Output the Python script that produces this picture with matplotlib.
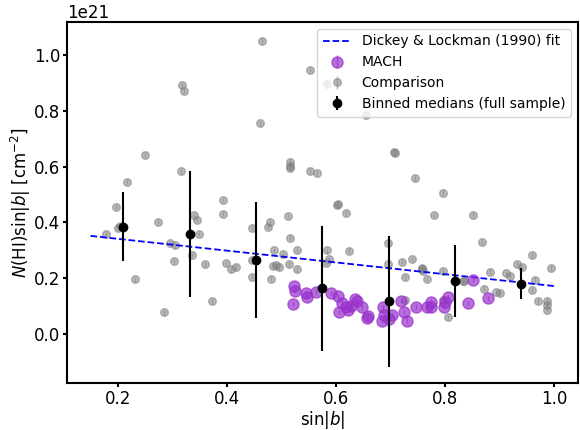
import numpy as np
import matplotlib
matplotlib.use('Agg')
import matplotlib.pyplot as plt

# Dickey & Lockman fit line (units of 1e21 cm^-2)
fit_x = [0.15, 1.0]
fit_y = [0.352, 0.172]

# comparison sample
comp_x = [0.179, 0.196, 0.201, 0.204, 0.216, 0.232, 0.250, 0.274, 0.285, 0.295,
          0.304, 0.303, 0.315, 0.318, 0.322, 0.336, 0.340, 0.345, 0.349, 0.359,
          0.372, 0.392, 0.393, 0.398, 0.407, 0.416, 0.445, 0.446, 0.445, 0.460,
          0.465, 0.476, 0.478, 0.481, 0.485, 0.489, 0.487, 0.496, 0.502, 0.511,
          0.513, 0.516, 0.516, 0.516, 0.516, 0.528, 0.528, 0.553, 0.553, 0.565,
          0.581, 0.584, 0.587, 0.584, 0.601, 0.603, 0.618, 0.624, 0.654, 0.695,
          0.695, 0.706, 0.707, 0.721, 0.727, 0.727, 0.739, 0.745, 0.757, 0.758,
          0.759, 0.767, 0.779, 0.795, 0.795, 0.796, 0.805, 0.832, 0.834, 0.850,
          0.867, 0.871, 0.881, 0.892, 0.901, 0.911, 0.919, 0.932, 0.941, 0.959,
          0.959, 0.964, 0.970, 0.987, 0.987, 0.987, 0.993]
comp_y = [0.359, 0.455, 0.379, 0.388, 0.546, 0.196, 0.641, 0.401, 0.078, 0.326,
          0.318, 0.261, 0.585, 0.892, 0.872, 0.284, 0.427, 0.409, 0.358, 0.250,
          0.118, 0.431, 0.480, 0.254, 0.232, 0.242, 0.380, 0.266, 0.204, 0.755,
          1.052, 0.385, 0.402, 0.199, 0.244, 0.247, 0.302, 0.239, 0.287, 0.424,
          0.250, 0.618, 0.603, 0.594, 0.346, 0.302, 0.232, 0.947, 0.585, 0.577,
          0.256, 0.300, 0.269, 0.898, 0.461, 0.465, 0.434, 0.299, 0.786, 0.328,
          0.251, 0.651, 0.648, 0.260, 0.205, 0.122, 0.269, 0.558, 0.233, 0.238,
          0.226, 0.197, 0.426, 0.507, 0.122, 0.227, 0.061, 0.190, 0.192, 0.428,
          0.330, 0.163, 0.224, 0.150, 0.148, 0.218, 0.209, 0.251, 0.241, 0.282,
          0.158, 0.195, 0.118, 0.120, 0.104, 0.086, 0.237]

# MACH sample
mach_x = [0.521, 0.522, 0.525, 0.545, 0.546, 0.563, 0.591, 0.603, 0.610, 0.606,
          0.618, 0.621, 0.627, 0.635, 0.638, 0.648, 0.656, 0.659, 0.684, 0.685,
          0.688, 0.697, 0.703, 0.718, 0.724, 0.730, 0.747, 0.767, 0.773, 0.774,
          0.797, 0.799, 0.805, 0.841, 0.851, 0.878]
mach_y = [0.108, 0.172, 0.156, 0.148, 0.134, 0.152, 0.148, 0.136, 0.110, 0.080,
          0.098, 0.086, 0.100, 0.125, 0.118, 0.096, 0.057, 0.065, 0.047, 0.096,
          0.068, 0.053, 0.068, 0.118, 0.080, 0.048, 0.098, 0.096, 0.116, 0.098,
          0.098, 0.116, 0.132, 0.111, 0.194, 0.128]
pt_err = 0.008

# binned medians of the full sample
bin_x = [0.210, 0.332, 0.454, 0.575, 0.696, 0.818, 0.939]
bin_y = [0.385, 0.358, 0.265, 0.164, 0.118, 0.190, 0.180]
bin_lo = [0.262, 0.134, 0.059, -0.060, -0.117, 0.062, 0.126]
bin_hi = [0.510, 0.583, 0.473, 0.389, 0.353, 0.320, 0.236]

scale = 1e21
by = np.array(bin_y) * scale
yerr = [by - np.array(bin_lo) * scale, np.array(bin_hi) * scale - by]

fig, ax = plt.subplots(figsize=(5.8, 4.3), dpi=100)
fig.subplots_adjust(left=0.116, right=0.996, top=0.949, bottom=0.109)

ax.plot(fit_x, np.array(fit_y) * scale, '--', color='blue', lw=1.3,
        label='Dickey & Lockman (1990) fit', zorder=2)
ax.errorbar(mach_x, np.array(mach_y) * scale, yerr=pt_err * scale, fmt='o',
            color='darkorchid', ms=8, alpha=0.7, elinewidth=1,
            label='MACH', zorder=3)
ax.errorbar(comp_x, np.array(comp_y) * scale, yerr=pt_err * scale, fmt='o',
            color='gray', ms=5.5, alpha=0.55, elinewidth=1,
            label='Comparison', zorder=1)
ax.errorbar(bin_x, by, yerr=yerr, fmt='o', color='black', ms=6, elinewidth=1.5,
            label='Binned medians (full sample)', zorder=4)

ax.set_xlabel(r'$\sin|b|$', fontsize=12, labelpad=1)
ax.set_ylabel(r'$N(\mathrm{HI})\sin|b|$ [cm$^{-2}$]', fontsize=12, labelpad=1)
ax.tick_params(labelsize=12, width=1.5, length=3, pad=2)
ax.yaxis.get_offset_text().set_fontsize(12)
for s in ax.spines.values():
    s.set_linewidth(1.5)
ax.legend(loc='upper right', fontsize=10, borderaxespad=0.5)

fig.savefig('out.png', dpi=100)
